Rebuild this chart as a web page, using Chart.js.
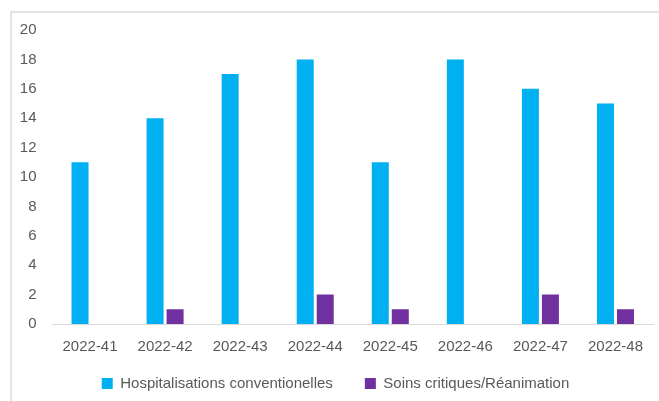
<!DOCTYPE html>
<html>
<head>
<meta charset="utf-8">
<script src="https://cdn.jsdelivr.net/npm/chart.js@4"></script>
<style>
  html, body { margin: 0; padding: 0; background: #fff; overflow: hidden; }
  #wrap { position: relative; width: 659px; height: 401px; }
  #frame { position: absolute; left: 10px; top: 11px; width: 700px; height: 450px; border: 2px solid #e3e3e3; box-sizing: border-box; }
  canvas { position: absolute; left: 0; top: 0; }
</style>
</head>
<body>
<div id="wrap">
  <div id="frame"></div>
  <canvas id="bar-chart" width="659" height="401"></canvas>
</div>
<script>
const weeks = ['2022-41', '2022-42', '2022-43', '2022-44', '2022-45', '2022-46', '2022-47', '2022-48'];
const hospitalisations = [11, 14, 17, 18, 11, 18, 16, 15];
const reanimation = [0, 1, 0, 2, 1, 0, 2, 1];
const yTicks = [0, 2, 4, 6, 8, 10, 12, 14, 16, 18, 20];

const textColor = '#595959';
const font = { family: "'Liberation Sans', Arial, sans-serif", size: 15 };

// x labels overlap the legend's padding, so widen their clip box after layout
const xLabelRoom = {
  id: 'xLabelRoom',
  afterLayout(chart) {
    chart.scales.x.bottom += 30;
  }
};

const ctx = document.getElementById('bar-chart').getContext('2d');

const chart = new Chart(ctx, {
  type: 'bar',
  data: {
    labels: weeks,
    datasets: [
      {
        label: 'Hospitalisations conventionelles',
        data: hospitalisations,
        backgroundColor: '#00B0F0',
        categoryPercentage: 0.533,
        barPercentage: 0.85
      },
      {
        label: 'Soins critiques/Réanimation',
        data: reanimation,
        backgroundColor: '#7030A0',
        categoryPercentage: 0.533,
        barPercentage: 0.85
      }
    ]
  },
  options: {
    responsive: false,
    animation: false,
    layout: { padding: { top: 30, left: 18, right: 6, bottom: 0 } },
    plugins: {
      tooltip: { enabled: false },
      legend: {
        position: 'bottom',
        labels: { color: textColor, font: font, boxWidth: 11, boxHeight: 11, padding: 32 }
      }
    },
    scales: {
      x: {
        grid: { display: true, drawOnChartArea: false, drawTicks: false },
        border: { color: '#d9d9d9', width: 1 },
        ticks: { color: textColor, font: font, padding: 14, maxRotation: 0 },
        afterFit: (scale) => { scale.height -= 26; }
      },
      y: {
        min: 0,
        max: 20,
        afterBuildTicks: (scale) => { scale.ticks = yTicks.map(v => ({ value: v })); },
        afterFit: (scale) => { scale.width = 34.5; },
        grid: { display: false },
        border: { display: false },
        ticks: { color: textColor, font: font, padding: 8 }
      }
    }
  },
  plugins: [xLabelRoom]
});
</script>
</body>
</html>
